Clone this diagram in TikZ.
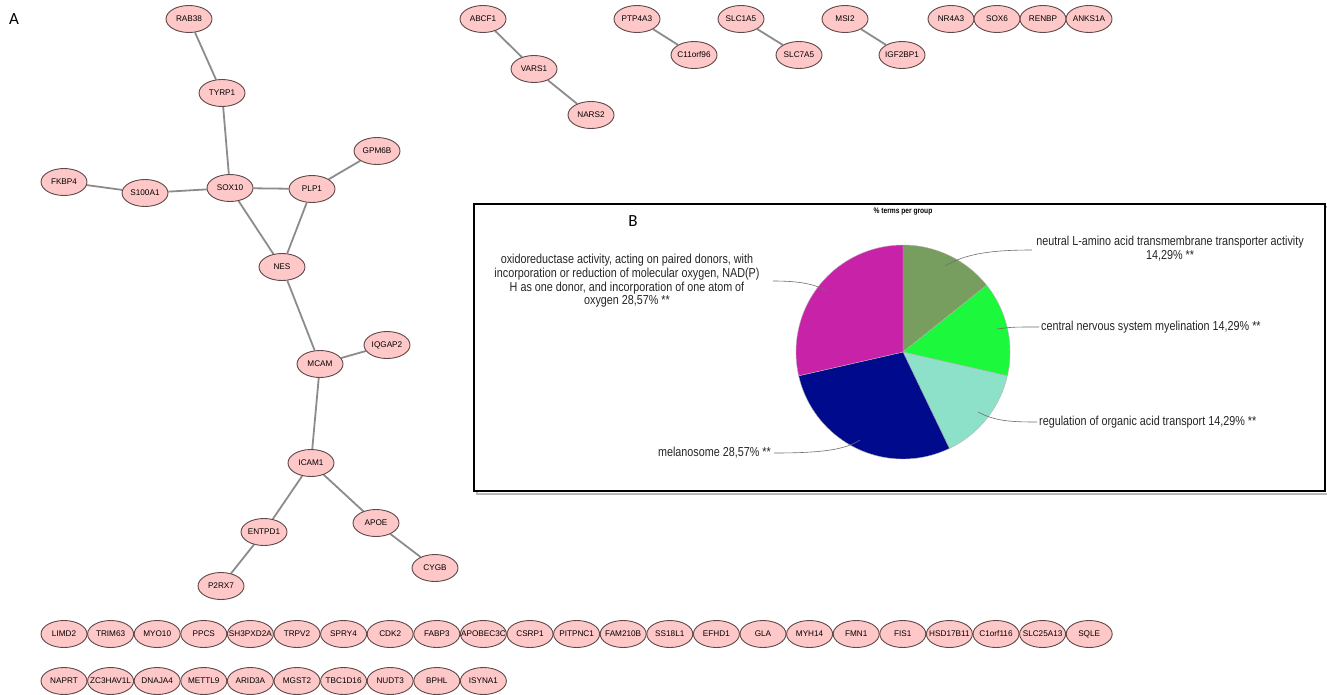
\documentclass[tikz,border=0pt]{standalone}
\usepackage{fontspec}
\setmainfont{Liberation Sans}
\newfontfamily\narrowfont[FakeStretch=0.83]{Liberation Sans}
\newfontfamily\calfont{Carlito}
\usetikzlibrary{shapes.geometric}
\pgfdeclarelayer{background}
\pgfsetlayers{background,main}
\definecolor{nodefill}{HTML}{FFC8C8}
\definecolor{nodeborder}{HTML}{5E4848}
\definecolor{edgegray}{HTML}{8C8C8C}
\definecolor{leadgray}{HTML}{6E6E6E}
\definecolor{sliceolive}{HTML}{779D5F}
\definecolor{slicegreen}{HTML}{1CF83C}
\definecolor{slicemint}{HTML}{8DE1C9}
\definecolor{slicenavy}{HTML}{000A8C}
\definecolor{slicemagenta}{HTML}{C822A8}
\tikzset{
  gene/.style={ellipse, draw=nodeborder, fill=nodefill, line width=0.9pt,
    minimum width=46pt, minimum height=27pt, inner sep=0pt,
    font=\fontsize{8.2}{9}\selectfont},
  link/.style={draw=edgegray, line width=1.8pt},
  leader/.style={draw=leadgray, line width=0.6pt},
  pielabel/.style={font=\narrowfont\fontsize{13}{13.7}\selectfont, inner sep=0pt, text=black!85},
  panel/.style={font=\calfont\fontsize{17}{18}\selectfont, inner sep=0pt}
}
\newcommand{\genenode}[3]{\node[gene] (#1) at (#2) {\makebox[0pt]{#3}};}
\begin{document}
\begin{tikzpicture}[x=1pt,y=-1pt]
\useasboundingbox (0,0) rectangle (1327,694);

\node[panel] (labA) at (14,19) {A};

% main network
\genenode{RAB38}{189,19}{RAB38}
\genenode{TYRP1}{222,93}{TYRP1}
\genenode{SOX10}{230,188}{SOX10}
\genenode{PLP1}{312,189}{PLP1}
\genenode{GPM6B}{377,151}{GPM6B}
\genenode{FKBP4}{64,182}{FKBP4}
\genenode{S100A1}{145,193}{S100A1}
\genenode{NES}{282,267}{NES}
\genenode{MCAM}{320,364}{MCAM}
\genenode{IQGAP2}{387,345}{IQGAP2}
\genenode{ICAM1}{311,463}{ICAM1}
\genenode{ENTPD1}{264,532}{ENTPD1}
\genenode{APOE}{376,523}{APOE}
\genenode{CYGB}{435,568}{CYGB}
\genenode{P2RX7}{221,586}{P2RX7}

% small components
\genenode{ABCF1}{483,19}{ABCF1}
\genenode{VARS1}{534,69}{VARS1}
\genenode{NARS2}{591,115}{NARS2}
\genenode{PTP4A3}{637,19}{PTP4A3}
\genenode{C11orf96}{694,55}{C11orf96}
\genenode{SLC1A5}{741,19}{SLC1A5}
\genenode{SLC7A5}{799,55}{SLC7A5}
\genenode{MSI2}{845,19}{MSI2}
\genenode{IGF2BP1}{902,55}{IGF2BP1}
\genenode{NR4A3}{951,19}{NR4A3}
\genenode{SOX6}{997,19}{SOX6}
\genenode{RENBP}{1043,19}{RENBP}
\genenode{ANKS1A}{1089,19}{ANKS1A}

\begin{pgfonlayer}{background}
\fill[white] (0,0) rectangle (1327,694);
\draw[link] (RAB38) -- (TYRP1);
\draw[link] (TYRP1) -- (SOX10);
\draw[link] (FKBP4) -- (S100A1);
\draw[link] (S100A1) -- (SOX10);
\draw[link] (SOX10) -- (PLP1);
\draw[link] (PLP1) -- (GPM6B);
\draw[link] (SOX10) -- (NES);
\draw[link] (PLP1) -- (NES);
\draw[link] (NES) -- (MCAM);
\draw[link] (MCAM) -- (IQGAP2);
\draw[link] (MCAM) -- (ICAM1);
\draw[link] (ICAM1) -- (ENTPD1);
\draw[link] (ICAM1) -- (APOE);
\draw[link] (APOE) -- (CYGB);
\draw[link] (ENTPD1) -- (P2RX7);
\draw[link] (ABCF1) -- (VARS1);
\draw[link] (VARS1) -- (NARS2);
\draw[link] (PTP4A3) -- (C11orf96);
\draw[link] (SLC1A5) -- (SLC7A5);
\draw[link] (MSI2) -- (IGF2BP1);
\end{pgfonlayer}

% bottom rows
\foreach \name [count=\i from 0] in {LIMD2,TRIM63,MYO10,PPCS,SH3PXD2A,TRPV2,SPRY4,CDK2,FABP3,APOBEC3C,CSRP1,PITPNC1,FAM210B,SS18L1,EFHD1,GLA,MYH14,FMN1,FIS1,HSD17B11,C1orf116,SLC25A13,SQLE}{
  \node[gene] (\name) at ({64+46.6*\i},634) {\makebox[0pt]{\name}};
}
\foreach \name [count=\i from 0] in {NAPRT,ZC3HAV1L,DNAJA4,METTL9,ARID3A,MGST2,TBC1D16,NUDT3,BPHL,ISYNA1}{
  \node[gene] (\name) at ({64+46.6*\i},681) {\makebox[0pt]{\name}};
}

% panel B
\draw[gray!55, line width=2.2pt] (477,207) rectangle (1328,494);
\draw[black, line width=1.6pt, fill=white] (474,204) rectangle (1325,491);
\node[panel] (labB) at (633,221) {B};
\node[font=\narrowfont\bfseries\fontsize{8}{9}\selectfont, inner sep=0pt] (title) at (903,212) {\% terms per group};

\begin{scope}[shift={(903,352)}, y=1pt]
  \coordinate (pc0) at (0,0);
  \filldraw[fill=sliceolive, draw=gray!60, line width=0.4pt] (pc0) -- (90:107) arc[start angle=90, end angle=38.571, radius=107] -- cycle;
  \filldraw[fill=slicegreen, draw=gray!60, line width=0.4pt] (pc0) -- (38.571:107) arc[start angle=38.571, end angle=-12.857, radius=107] -- cycle;
  \filldraw[fill=slicemint, draw=gray!60, line width=0.4pt] (pc0) -- (-12.857:107) arc[start angle=-12.857, end angle=-64.286, radius=107] -- cycle;
  \filldraw[fill=slicenavy, draw=gray!60, line width=0.4pt] (pc0) -- (-64.286:107) arc[start angle=-64.286, end angle=-167.143, radius=107] -- cycle;
  \filldraw[fill=slicemagenta, draw=gray!60, line width=0.4pt] (pc0) -- (-167.143:107) arc[start angle=-167.143, end angle=-270, radius=107] -- cycle;
\end{scope}

% pie labels
\node[pielabel, align=center, anchor=north] (lneutral) at (1170,236) {neutral L-amino acid transmembrane transporter activity\\14,29\% **};
\node[pielabel, anchor=west] (lcentral) at (1041,327) {central nervous system myelination 14,29\% **};
\node[pielabel, anchor=west] (lreg) at (1039,422) {regulation of organic acid transport 14,29\% **};
\node[pielabel, anchor=east] (lmel) at (771,453) {melanosome 28,57\% **};
\node[pielabel, align=center] (loxi) at (627,281) {oxidoreductase activity, acting on paired donors, with\\incorporation or reduction of molecular oxygen, NAD(P)\\H as one donor, and incorporation of one atom of\\oxygen 28,57\% **};

\coordinate (pn) at (945,266);
\coordinate (ln) at (1032,250);
\coordinate (pcn) at (997,329);
\coordinate (lcn) at (1039,327);
\coordinate (pr) at (978,412);
\coordinate (lr) at (1037,422);
\coordinate (pm) at (860,440);
\coordinate (lm) at (774,453);
\coordinate (po) at (828,292);
\coordinate (lo) at (773,281);
\draw[leader] (pn) .. controls (965,254) and (990,250) .. (ln);
\draw[leader] (pcn) .. controls (1012,327) .. (lcn);
\draw[leader] (pr) .. controls (995,421) and (1010,422) .. (lr);
\draw[leader] (pm) .. controls (845,450) and (820,453) .. (lm);
\draw[leader] (po) .. controls (815,283) and (795,281) .. (lo);
\end{tikzpicture}
\end{document}
